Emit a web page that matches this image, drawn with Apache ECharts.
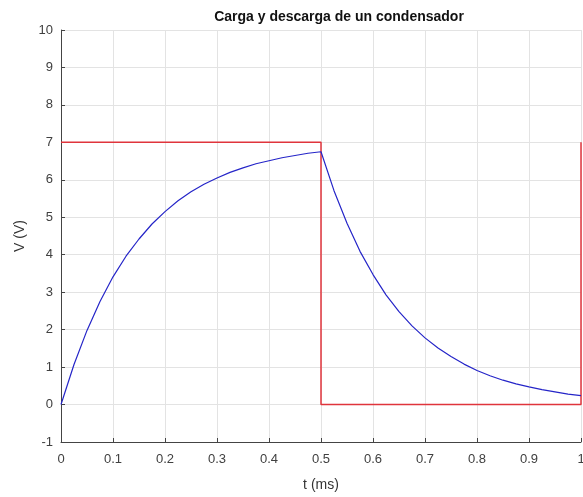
<!DOCTYPE html>
<html>
<head>
<meta charset="utf-8">
<script src="https://cdn.jsdelivr.net/npm/echarts@6/dist/echarts.min.js"></script>
<style>
  html, body { margin: 0; padding: 0; background: #fff; }
  #chart { width: 583px; height: 497px; }
</style>
</head>
<body>
<div id="chart"></div>
<script>
// time (ms) samples
let tCarga = [0, 0.025, 0.05, 0.075, 0.1, 0.125, 0.15, 0.175, 0.2, 0.225, 0.25,
  0.275, 0.3, 0.325, 0.35, 0.375, 0.4, 0.425, 0.45, 0.475, 0.5];
let vCarga = [0, 1.07, 1.98, 2.75, 3.41, 3.96, 4.42, 4.82, 5.15, 5.44, 5.68,
  5.88, 6.05, 6.2, 6.32, 6.43, 6.51, 6.59, 6.65, 6.71, 6.75];
let tDescarga = [0.525, 0.55, 0.575, 0.6, 0.625, 0.65, 0.675, 0.7, 0.725, 0.75,
  0.775, 0.8, 0.825, 0.85, 0.875, 0.9, 0.925, 0.95, 0.975, 1];
let vDescarga = [5.71, 4.84, 4.09, 3.47, 2.93, 2.48, 2.1, 1.78, 1.51, 1.28,
  1.08, 0.91, 0.77, 0.65, 0.55, 0.47, 0.4, 0.34, 0.28, 0.24];

// square wave (source)
let tFuente = [0, 0.5, 0.5, 1, 1];
let vFuente = [7, 7, 0, 0, 7];

let tTicks = [0, 0.1, 0.2, 0.3, 0.4, 0.5, 0.6, 0.7, 0.8, 0.9, 1];

let chart = echarts.init(document.getElementById("chart"));

let condensador = tCarga.concat(tDescarga).map((t, i) => [t, vCarga.concat(vDescarga)[i]]);
let fuente = tFuente.map((t, i) => [t, vFuente[i]]);

let fontName = "Liberation Sans, Arial, sans-serif";
let axisText = { color: "#404040", fontSize: 13, fontFamily: fontName };

let option = {
  animation: false,
  title: {
    text: "Carga y descarga de un condensador",
    left: 334,
    textAlign: "center",
    top: 5,
    textStyle: {
      fontSize: 14,
      fontWeight: "bold",
      color: "#111",
      fontFamily: fontName,
    },
  },
  grid: {
    left: 61,
    right: 2,
    top: 30,
    bottom: 55,
    outerBoundsMode: "none",
  },
  xAxis: {
    type: "value",
    min: 0,
    max: 1,
    interval: 0.1,
    name: "t (ms)",
    nameLocation: "center",
    nameGap: 36,
    nameTextStyle: { color: "#333", fontSize: 14, fontFamily: fontName },
    axisLine: { show: true, onZero: false, lineStyle: { color: "#444", width: 1 } },
    axisTick: { show: true, inside: true, length: 4, lineStyle: { color: "#444" } },
    axisLabel: Object.assign({ margin: 11, formatter: (v) => String(tTicks[Math.round(v * 10)]) }, axisText),
    splitLine: { show: true, lineStyle: { color: "#e3e3e3", width: 1 } },
  },
  yAxis: {
    type: "value",
    min: -1,
    max: 10,
    interval: 1,
    name: "V (V)",
    nameLocation: "center",
    nameGap: 32,
    nameTextStyle: { color: "#333", fontSize: 14, fontFamily: fontName },
    axisLine: { show: true, onZero: false, lineStyle: { color: "#444", width: 1 } },
    axisTick: { show: true, inside: true, length: 4, lineStyle: { color: "#444" } },
    axisLabel: Object.assign({ margin: 8 }, axisText),
    splitLine: { show: true, lineStyle: { color: "#e3e3e3", width: 1 } },
  },
  series: [
    {
      name: "Fuente",
      type: "line",
      data: fuente,
      showSymbol: false,
      lineStyle: { color: "#e0343c", width: 1.5 },
      z: 2,
    },
    {
      name: "Condensador",
      type: "line",
      data: condensador,
      showSymbol: false,
      smooth: false,
      lineStyle: { color: "#2525c8", width: 1.2 },
      z: 3,
    },
  ],
};

chart.setOption(option);
</script>
</body>
</html>
